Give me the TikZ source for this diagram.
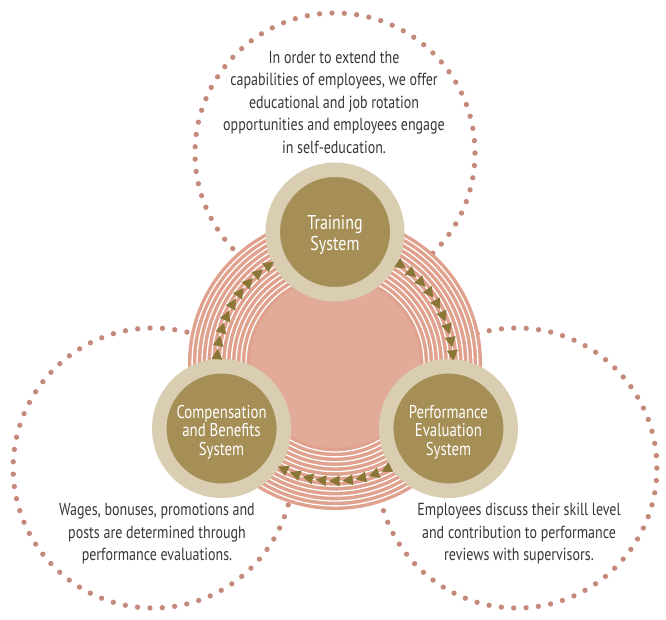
\documentclass[tikz,border=0pt]{standalone}
\usepackage{fontspec}
\setmainfont[FakeStretch=0.8]{PT Sans}
\usetikzlibrary{calc}
\definecolor{ringbeige}{RGB}{217,205,178}
\definecolor{olivefill}{RGB}{165,143,86}
\definecolor{arrowolive}{RGB}{138,119,56}
\definecolor{pinksolid}{RGB}{226,170,152}
\definecolor{pinkstripe}{RGB}{224,162,142}
\definecolor{dotrose}{RGB}{196,137,122}
\definecolor{textgray}{RGB}{55,55,55}
\tikzset{
  dotring/.style={draw=dotrose, line width=5.3pt, line cap=round,
    dash pattern=on 0pt off 12.389pt},
  sysnode/.style={circle, fill=olivefill, draw=ringbeige, line width=14.5pt,
    minimum size=124.5pt, inner sep=0pt},
  systext/.style={text=white, align=center, inner sep=0pt,
    font=\fontsize{18.5}{18.5}\selectfont},
  desc/.style={text=textgray, align=center, inner sep=0pt,
    font=\fontsize{17.5}{22.5}\selectfont},
  flowmark/.style={fill=arrowolive}
}
\begin{document}
\begin{tikzpicture}[x=1pt,y=1pt]
\useasboundingbox (0,0) rectangle (666,619);
\coordinate (O) at (335,256);

% dotted outer circles around each description
\coordinate (dtop) at ($(O)+(90:210)$);
\coordinate (dleft) at ($(O)+(210:210)$);
\coordinate (dright) at ($(O)+(330:210)$);
\draw[dotring] (dtop) circle[radius=140];
\draw[dotring] (dleft) circle[radius=140];
\draw[dotring] (dright) circle[radius=140];

% striped pink ring with solid centre
\fill[pinkstripe] (O) circle[radius=147];
\foreach \i in {0,...,11}{
  \draw[white, line width=1.3pt] (O) circle[radius=89+4.9*\i];
}
\fill[pinksolid] (O) circle[radius=85];

% system nodes and their titles
\node[sysnode] (T) at ($(O)+(90:131)$) {};
\node[sysnode] (C) at ($(O)+(210:131)$) {};
\node[sysnode] (P) at ($(O)+(330:131)$) {};
\node[systext, font=\fontsize{20}{21.7}\selectfont] (Tt) at ([yshift=-3pt]T.center) {Training\\System};
\node[systext] (Ct) at ([yshift=-3.5pt]C.center) {Compensation\\and Benefits\\System};
\node[systext] (Pt) at ([yshift=-3.5pt]P.center) {Performance\\Evaluation\\System};

% triangular flow marks along the ring, clockwise
\foreach \c in {150,30,270}{
  \foreach \k in {0,...,8}{
    \pgfmathsetmacro\ang{\c+26-6.5*\k}
    \fill[flowmark, shift={($(O)+(\ang:118)$)}, rotate=\ang-90]
      (6,0) -- (-4.5,5.5) -- (-4.5,-5.5) -- cycle;
  }
}

% descriptions
\node[desc] (ttext) at (334,517) {In order to extend the\\capabilities of employees, we offer\\educational and job rotation\\opportunities and employees engage\\in self-education.};
\node[desc] (ltext) at (157,85) {Wages, bonuses, promotions and\\posts are determined through\\performance evaluations.};
\node[desc] (rtext) at (519,85) {Employees discuss their skill level\\and contribution to performance\\reviews with supervisors.};
\end{tikzpicture}
\end{document}
